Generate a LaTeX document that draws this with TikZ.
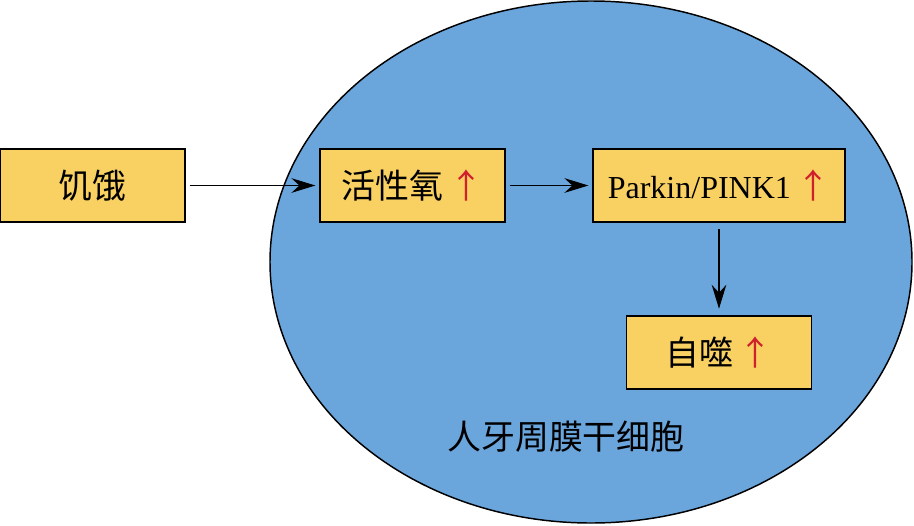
\documentclass[tikz,border=0pt]{standalone}
\usepackage{fontspec}
\setmainfont{Liberation Serif}
\newfontfamily\cjk[Scale=1.06]{Noto Sans CJK SC}
\usepackage{tikz}
\usetikzlibrary{arrows, positioning, arrows.meta, shapes.geometric}
\definecolor{cellblue}{HTML}{6AA5DC}
\definecolor{boxyellow}{HTML}{F9D162}
\definecolor{upred}{HTML}{D0202E}
\newcommand{\up}{{\cjk\color{upred}↑}}

\begin{document}
\begin{tikzpicture}[x=0.75pt, y=-0.75pt, >={Stealth[length=18pt, width=11pt, inset=6pt]},
    box/.style={draw, fill=boxyellow, line width=0.9pt, minimum width=138.75pt, minimum height=54.75pt, font=\fontsize{24}{28}\selectfont}]

    \useasboundingbox (0,0) rectangle (914,525);

    % Cell
    \node (cell) [draw, ellipse, fill=cellblue, line width=1.1pt, minimum width=481.5pt, minimum height=391.5pt] at (591,262) {};
    \node (celltext) at (566,437) {\fontsize{24}{28}\selectfont\cjk 人牙周膜干细胞};

    % Nodes
    \node (hunger) [box] at (92.5,185.5) {\cjk 饥饿};
    \node (ros) [box] at (412.5,185.5) {\cjk 活性氧\,\up};
    \node (pink) [box, minimum width=189pt] at (719,185.5) {Parkin/PINK1\,\up};
    \node (auto) [box] at (719,352.5) {\cjk 自噬\,\up};

    % Arrows
    \draw[->, line width=1pt, shorten <=3pt, shorten >=3pt] (hunger) -- (ros);
    \draw[->, line width=1pt, shorten <=3pt, shorten >=3pt] (ros) -- (pink);
    \draw[->, line width=1pt, shorten <=5pt, shorten >=5pt] (pink) -- (auto);

\end{tikzpicture}
\end{document}
